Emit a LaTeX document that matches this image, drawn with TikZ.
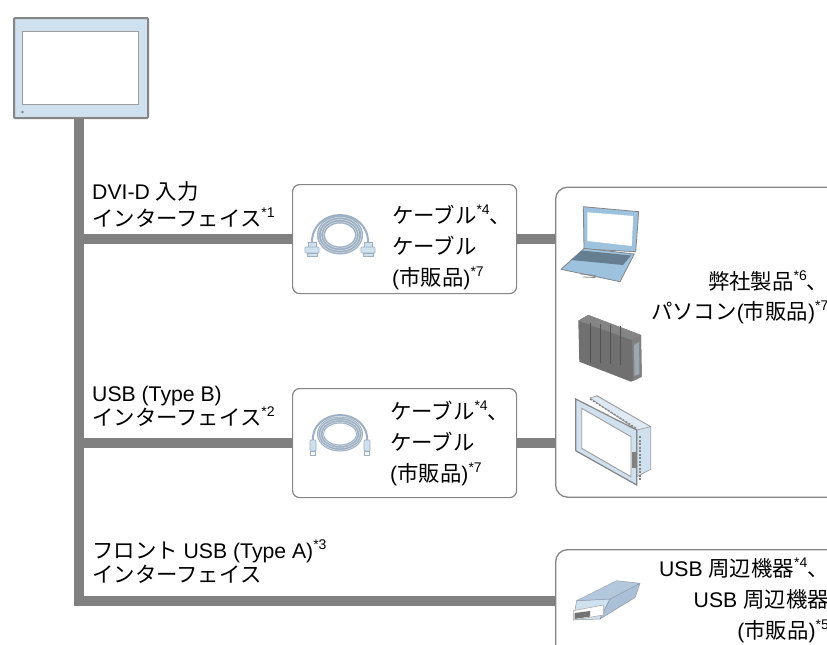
\documentclass[tikz,border=0pt]{standalone}
\usepackage{fontspec}
\setmainfont{Liberation Sans}
\newfontfamily\cjkfont{Noto Sans CJK JP}
\newcommand{\J}[1]{{\cjkfont\fontsize{21.4}{24}\selectfont #1}}
\newcommand{\Sp}[1]{\raisebox{9pt}{\fontsize{14}{14}\selectfont #1}}
\definecolor{trunkgray}{HTML}{808080}
\definecolor{framegray}{HTML}{858585}
\definecolor{paleblue}{HTML}{CFE0EE}
\definecolor{lapblue}{HTML}{9CC2DE}
\definecolor{cableblue}{HTML}{9DB0C3}
\definecolor{stickTop}{HTML}{B4C8DC}
\definecolor{stickSide}{HTML}{A9C0D6}
\definecolor{boxgray}{HTML}{707070}
\tikzset{
  x=1pt,y=-1pt,
  bus/.style={draw=trunkgray,line width=10pt},
  card/.style={draw=framegray,line width=1.2pt,fill=white,rounded corners=7pt,inner sep=0pt,anchor=north west},
  panel/.style={draw=framegray,line width=1.3pt,fill=white,rounded corners=12pt,inner sep=0pt,anchor=north west},
  label/.style={inner sep=0pt,align=left,anchor=west,font=\fontsize{21.2}{24}\selectfont},
  boxtext/.style={inner sep=0pt,align=left,anchor=west,font=\fontsize{21.2}{31}\selectfont},
  paneltext/.style={inner sep=0pt,align=right,anchor=east,font=\fontsize{21.2}{30}\selectfont},
  icon/.style={draw=framegray,line width=.8pt,line join=round},
}
\begin{document}
\begin{tikzpicture}
\useasboundingbox (0,0) rectangle (827,645);
\clip (0,0) rectangle (827,645);
% monitor
\node[draw=framegray,line width=2pt,fill=paleblue,rounded corners=1pt,inner sep=0pt,minimum width=134pt,minimum height=100pt,anchor=north west] (mon) at (13,17) {};
\node[draw=framegray!80,line width=1.2pt,fill=white,inner sep=0pt,minimum width=115.5pt,minimum height=72.5pt,anchor=north west] (screen) at (22,31) {};
\fill[framegray] (22.5,112) circle (1.3);
% junctions
\coordinate (j1) at (78.5,239);
\coordinate (j2) at (78.5,443);
\coordinate (j3) at (78.5,601);
% boxes
\node[card,minimum width=224pt,minimum height=109pt] (cab1) at (292,184) {};
\node[card,minimum width=224pt,minimum height=109pt] (cab2) at (292,388) {};
\node[panel,minimum width=320pt,minimum height=310pt] (pc) at (555,186.5) {};
\node[panel,minimum width=320pt,minimum height=150pt] (usb) at (555,549) {};
% connectors
\draw[bus] (mon.south -| j1) -- (j3 |- 0,606);
\draw[bus] (j1) -- (cab1.west |- j1);
\draw[bus] (j2) -- (cab2.west |- j2);
\draw[bus] (78.5,601) -- (usb.west |- j3);
\draw[bus] (cab1.east |- j1) -- (pc.west |- j1);
\draw[bus] (cab2.east |- j2) -- (pc.west |- j2);
% labels
\node[label] (l1) at (92,205) {DVI-D \J{入力}\\[3pt]\J{インターフェイス}\Sp{*1}};
\node[label] (l2) at (92,406) {USB (Type B)\\\J{インターフェイス}\Sp{*2}};
\node[label] (l3) at (92,562) {\J{フロント} USB (Type A)\Sp{*3}\\\J{インターフェイス}};
\node[boxtext] (t1) at (392,247) {\J{ケーブル}\Sp{*4}\J{、}\\\J{ケーブル}\\(\J{市販品})\Sp{*7}};
\node[boxtext] (t2) at (390,443) {\J{ケーブル}\Sp{*4}\J{、}\\\J{ケーブル}\\(\J{市販品})\Sp{*7}};
\node[paneltext] (t3) at (828.5,297) {\J{弊社製品}\Sp{*6}\J{、}\\\J{パソコン}(\J{市販品})\Sp{*7}};
\node[paneltext,font=\fontsize{21.2}{31}\selectfont] (t4) at (829,600) {USB \J{周辺機器}\Sp{*4}\J{、}\\USB \J{周辺機器}\\(\J{市販品})\Sp{*5}};
% cable 1 (D-sub)
\draw[cableblue,line width=2pt] (312,244) .. controls (311,226) and (325,215) .. (340,215) .. controls (355,215) and (369,226) .. (368,244);
\draw[cableblue,line width=8pt] (340,235) ellipse (19 and 15.5);
\foreach \d in {-2.4,0,2.4}{\draw[white!70!cableblue,line width=.4pt] (340,235) ellipse ({19+\d} and {15.5+\d});}
\foreach \px in {312,368}{
  \fill[paleblue,draw=cableblue,line width=.7pt] (\px-4,242.5) rectangle (\px+4,247);
  \fill[paleblue,draw=cableblue,line width=.7pt,rounded corners=1pt] (\px-7,247) rectangle (\px+7,253);
  \fill[paleblue,draw=cableblue,line width=.7pt] (\px-5,253) rectangle (\px+5,256);
}
% cable 2 (USB)
\draw[cableblue,line width=2pt] (313,442) .. controls (311,426) and (325,415) .. (340,415) .. controls (355,415) and (369,426) .. (367,442);
\draw[cableblue,line width=7pt] (340,434) ellipse (19.5 and 14);
\foreach \d in {-2.2,0,2.2}{\draw[white!70!cableblue,line width=.4pt] (340,434) ellipse ({19.5+\d} and {14+\d});}
\foreach \px in {313,367}{
  \fill[paleblue,draw=cableblue,line width=.7pt,rounded corners=1pt] (\px-3,440) rectangle (\px+3,451);
  \fill[white,draw=cableblue,line width=.7pt] (\px-2.2,451) rectangle (\px+2.2,455);
}
% laptop
\draw[icon,fill=lapblue] (583.3,206.7) -- (638.7,211.7) -- (635.7,251.7) -- (584,249) -- cycle;
\fill[white] (587.3,212.3) -- (633.3,216) -- (631.7,246) -- (587.3,241) -- cycle;
\draw[icon,fill=lapblue] (584.3,248.3) -- (634.3,254) -- (620,281.7) -- (561,269.3) -- cycle;
\fill[black!35!lapblue] (582,250.5) -- (631,255.5) -- (623,265) -- (571,260) -- cycle;
\draw[icon] (581,274) -- (595,275.5) -- (595,277.5) -- (583,277);
% box PC
\fill[boxgray] (578.3,320.7) -- (588.3,315) -- (641,335) -- (641.7,376.7) -- (631,381.7) -- (579.3,361.7) -- cycle;
\fill[boxgray!85!white] (578.3,320.7) -- (588.3,315) -- (641,335) -- (632,340) -- cycle;
\fill[black!50] (632,340) -- (641,335) -- (641.7,376.7) -- (633,381) -- cycle;
\fill[paleblue!75!black] (634,345) -- (639,342) -- (639.5,374) -- (634.5,376) -- cycle;
\foreach \fx in {590,600,610,620}{
  \draw[black!68,line width=.7pt] (\fx,323+\fx/10-59) -- (\fx,362+\fx/10-59);
}
% panel computer
\draw[framegray!80,line width=.7pt,fill=paleblue,line join=round] (592,398) -- (597,395.7) -- (650.7,426.7) -- (650.7,469.3) -- (636.7,476.7) -- (636.7,430) -- cycle;
\draw[framegray!80,line width=.7pt,fill=paleblue!70!white,line join=round] (590,398) -- (597,396) -- (650.7,426.7) -- (636.7,430) -- cycle;
\draw[framegray,line width=1.3pt,dash pattern=on 2pt off 1.5pt] (590,399) -- (636,428);
\draw[framegray,line width=1.2pt,fill=paleblue] (575.7,399) -- (636.7,430) -- (636.7,485) -- (575.7,450.7) -- cycle;
\draw[framegray!80,line width=.9pt,fill=white] (581.7,408.3) -- (631,436.7) -- (631,476.7) -- (581.7,448.3) -- cycle;
\fill[black!50] (631.5,452) rectangle (635.5,468);
\draw[framegray,line width=1.3pt,dash pattern=on 2pt off 1.5pt] (640,436) -- (640,480);
% usb stick
\fill[paleblue,draw=paleblue!70!black,line width=.5pt,line join=round] (576.7,600.7) -- (610,599) -- (600,619) -- (573,620) -- cycle;
\fill[stickSide,draw=stickSide!80!black,line width=.5pt,line join=round] (610,599) -- (640,583.3) -- (635,597.5) -- (600,619) -- cycle;
\fill[stickTop,draw=stickTop!80!black,line width=.5pt,line join=round] (576.7,600.7) -- (616.7,580.7) -- (640,583.3) -- (610,599) -- cycle;
\draw[framegray!70,line width=.6pt,fill=white] (573.3,610.7) -- (603.3,605) -- (603.3,615) -- (573.3,620) -- cycle;
\fill[black!55] (574.5,613) -- (590,611) -- (590,616.5) -- (574.5,619) -- cycle;
\end{tikzpicture}
\end{document}
